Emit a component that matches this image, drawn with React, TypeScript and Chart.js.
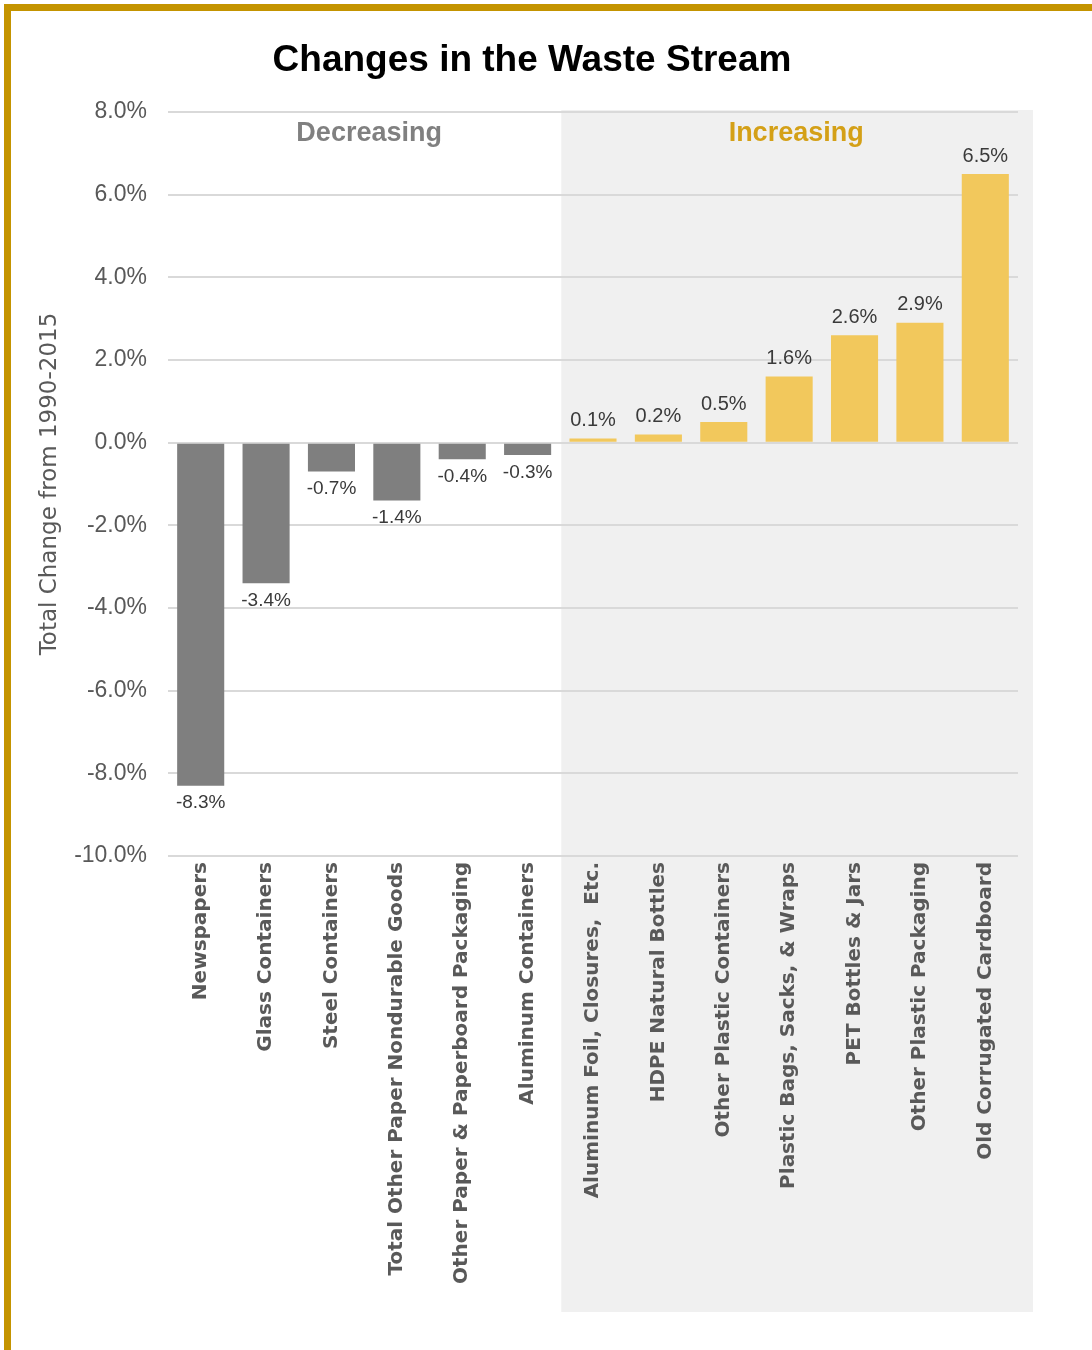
import React, { useEffect, useRef } from 'react';
import { Chart, registerables } from 'chart.js';

Chart.register(...registerables);

const chartTitle = 'Changes in the Waste Stream';
const yAxisTitle = 'Total Change from 1990-2015';
const groupLabels = ['Decreasing', 'Increasing'];

const categories = [
  'Newspapers',
  'Glass Containers',
  'Steel Containers',
  'Total Other Paper Nondurable Goods',
  'Other Paper & Paperboard Packaging',
  'Aluminum Containers',
  'Aluminum Foil, Closures,  Etc.',
  'HDPE Natural Bottles',
  'Other Plastic Containers',
  'Plastic Bags, Sacks, & Wraps',
  'PET Bottles & Jars',
  'Other Plastic Packaging',
  'Old Corrugated Cardboard',
];

const changeValues = [-8.3, -3.4, -0.7, -1.4, -0.4, -0.3, 0.1, 0.2, 0.5, 1.6, 2.6, 2.9, 6.5];

const yMin = -10;
const yMax = 8;
const yStep = 2;

const GRAY_BAR = '#7f7f7f';
const GOLD_BAR = '#F2C85C';
const SHADE = '#f0f0f0';
const TEXT_GRAY = '#595959';

const W = 1064;
const H = 1330;

export default function App() {
  const canvasRef = useRef<HTMLCanvasElement | null>(null);

  useEffect(() => {
    const canvas = canvasRef.current;
    if (!canvas) return;

    const shadePlugin = {
      id: 'shadeIncreasing',
      beforeDraw(chart: any) {
        const { ctx, chartArea } = chart;
        const x = chart.scales.x;
        const half = (x.getPixelForValue(1) - x.getPixelForValue(0)) / 2;
        const left = x.getPixelForValue(6) - half + 1;
        const right = chartArea.right + 15;
        ctx.save();
        ctx.fillStyle = SHADE;
        ctx.fillRect(left, chartArea.top - 2, right - left, chart.height - 18 - (chartArea.top - 2));
        ctx.restore();
      },
    };

    const labelPlugin = {
      id: 'textLabels',
      afterDatasetsDraw(chart: any) {
        const { ctx, chartArea } = chart;
        const meta = chart.getDatasetMeta(0);
        ctx.save();
        ctx.textAlign = 'center';
        meta.data.forEach((bar: any, i: number) => {
          const v = changeValues[i];
          const txt = v.toFixed(1) + '%';
          ctx.fillStyle = '#3a3a3a';
          if (v < 0) {
            ctx.font = '19px "Liberation Sans", Arial, sans-serif';
            ctx.textBaseline = 'top';
            ctx.fillText(txt, bar.x, bar.y + 8);
          } else {
            ctx.font = '20px "Liberation Sans", Arial, sans-serif';
            ctx.textBaseline = 'bottom';
            ctx.fillText(txt, bar.x, bar.y - 8);
          }
        });
        // group labels
        const x = chart.scales.x;
        ctx.font = 'bold 27px "Liberation Sans", Arial, sans-serif';
        ctx.textBaseline = 'middle';
        ctx.fillStyle = '#808080';
        ctx.fillText(groupLabels[0], (x.getPixelForValue(2) + x.getPixelForValue(3)) / 2 + 5, chartArea.top + 22);
        ctx.fillStyle = '#D4A017';
        ctx.fillText(groupLabels[1], x.getPixelForValue(9) + 7, chartArea.top + 22);
        // title
        ctx.fillStyle = '#000000';
        ctx.font = 'bold 37px "Liberation Sans", Arial, sans-serif';
        ctx.fillText(chartTitle, chart.width / 2, 61);
        ctx.restore();
      },
    };

    const chart = new Chart(canvas, {
      type: 'bar',
      data: {
        labels: categories,
        datasets: [
          {
            data: changeValues,
            backgroundColor: changeValues.map((v) => (v < 0 ? GRAY_BAR : GOLD_BAR)),
            barPercentage: 0.72,
            categoryPercentage: 1,
          },
        ],
      },
      options: {
        responsive: false,
        animation: false,
        devicePixelRatio: 1,
        layout: { padding: { left: 0, right: 46, top: 112, bottom: 0 } },
        plugins: {
          legend: { display: false },
          title: { display: false },
          tooltip: { enabled: false },
        },
        scales: {
          x: {
            grid: { display: false, drawTicks: false },
            border: { display: false },
            ticks: {
              autoSkip: false,
              minRotation: 90,
              maxRotation: 90,
              padding: 6,
              color: TEXT_GRAY,
              font: { family: '"DejaVu Sans", sans-serif', size: 20, weight: 'bold' },
            },
            afterFit(scale: any) {
              scale.height = H - 856;
            },
          },
          y: {
            min: yMin,
            max: yMax,
            grid: { color: '#d9d9d9', lineWidth: 2, drawTicks: false },
            border: { display: false },
            ticks: {
              stepSize: yStep,
              padding: 21,
              color: TEXT_GRAY,
              font: { family: '"Liberation Sans", Arial, sans-serif', size: 23 },
              callback: (v: any) => Number(v).toFixed(1) + '%',
            },
            title: {
              display: true,
              text: yAxisTitle,
              color: TEXT_GRAY,
              padding: { top: 36, bottom: 0 },
              font: { family: '"DejaVu Sans", sans-serif', size: 23 },
            },
            afterFit(scale: any) {
              scale.width = 168;
            },
          },
        },
      },
      plugins: [shadePlugin, labelPlugin],
    } as any);

    return () => chart.destroy();
  }, []);

  return (
    <div style={{ position: 'absolute', left: 0, top: 0, width: 1092, height: 1350, overflow: 'hidden', background: '#ffffff' }}>
      <div
        style={{
          position: 'absolute',
          left: 4,
          top: 4,
          width: 1088,
          height: 1346,
          boxSizing: 'border-box',
          borderTop: '7px solid #C49400',
          borderLeft: '7px solid #C49400',
        }}
      />
      <canvas
        ref={canvasRef}
        width={W}
        height={H}
        style={{ position: 'absolute', left: 0, top: 0, width: W, height: H }}
      />
    </div>
  );
}
